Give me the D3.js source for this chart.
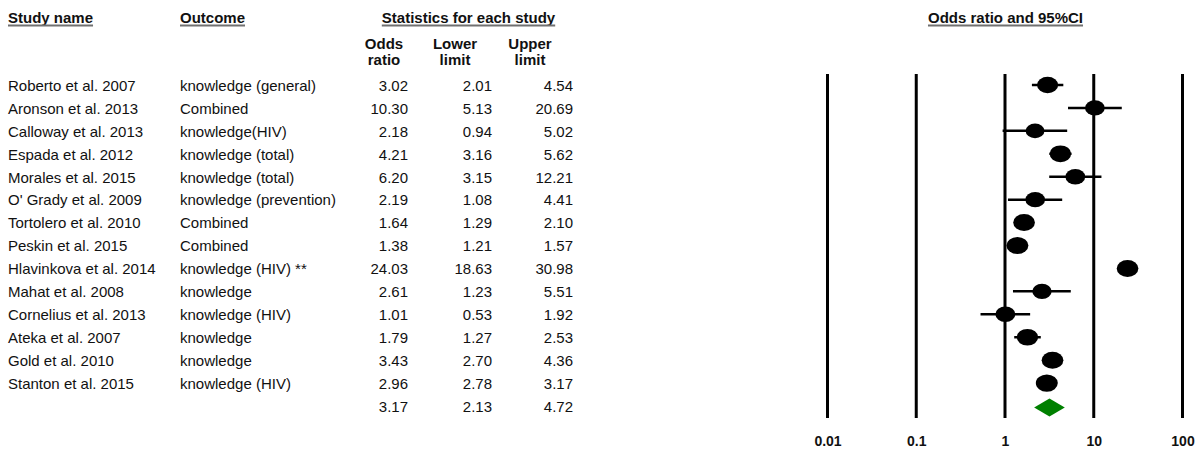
<!DOCTYPE html>
<html>
<head>
<meta charset="utf-8">
<script src="https://cdn.jsdelivr.net/npm/d3@7"></script>
<style>
  html, body { margin: 0; padding: 0; background: #fff; }
  svg { display: block; font-family: "Liberation Sans", Arial, sans-serif; }
</style>
</head>
<body>
<svg id="chart" width="1198" height="449"></svg>
<script>
// Study-level results (odds ratio with 95% CI)
const studies = [
  "Roberto et al. 2007", "Aronson et al. 2013", "Calloway et al. 2013",
  "Espada et al. 2012", "Morales et al. 2015", "O' Grady et al. 2009",
  "Tortolero et al. 2010", "Peskin et al. 2015", "Hlavinkova et al. 2014",
  "Mahat et al. 2008", "Cornelius et al. 2013", "Ateka et al. 2007",
  "Gold et al. 2010", "Stanton et al. 2015"
];
const outcomes = [
  "knowledge (general)", "Combined", "knowledge(HIV)",
  "knowledge (total)", "knowledge (total)", "knowledge (prevention)",
  "Combined", "Combined", "knowledge (HIV) **",
  "knowledge", "knowledge (HIV)", "knowledge",
  "knowledge", "knowledge (HIV)"
];
const oddsRatio  = [3.02, 10.30, 2.18, 4.21, 6.20, 2.19, 1.64, 1.38, 24.03, 2.61, 1.01, 1.79, 3.43, 2.96];
const lowerLimit = [2.01,  5.13, 0.94, 3.16, 3.15, 1.08, 1.29, 1.21, 18.63, 1.23, 0.53, 1.27, 2.70, 2.78];
const upperLimit = [4.54, 20.69, 5.02, 5.62, 12.21, 4.41, 2.10, 1.57, 30.98, 5.51, 1.92, 2.53, 4.36, 3.17];

// Pooled (random-effects) result
const summaryOR = 3.17, summaryLower = 2.13, summaryUpper = 4.72;

// Axis ticks of the forest plot
const tickValues = [0.01, 0.1, 1, 10, 100];
const tickLabels = ["0.01", "0.1", "1", "10", "100"];

const svg = d3.select("#chart");
const fmt = d3.format(".2f");

// Layout
const rowTop = 85, rowStep = 22.93;
const nRows = studies.length;
const rowY = i => rowTop + i * rowStep;
const plotTop = 74, plotBottom = 418;

const x = d3.scaleLog().domain([0.01, 100]).range([827.5, 1182.5]);

// Marker size from random-effects weights (DerSimonian-Laird)
const z = 1.959964;
const yi = oddsRatio.map(Math.log);
const vi = lowerLimit.map((l, i) => Math.pow((Math.log(upperLimit[i]) - Math.log(l)) / (2 * z), 2));
const wf = vi.map(v => 1 / v);
const sw = d3.sum(wf), sw2 = d3.sum(wf, w => w * w);
const yFixed = d3.sum(yi, (y, i) => wf[i] * y) / sw;
const Q = d3.sum(yi, (y, i) => wf[i] * (y - yFixed) * (y - yFixed));
const tau2 = Math.max(0, (Q - (nRows - 1)) / (sw - sw2 / sw));
const wr = vi.map(v => 1 / (v + tau2));
const wMax = d3.max(wr);
const rxOf = i => 11 * Math.sqrt(wr[i] / wMax);

// Header text with underline
function header(txt, xPos, yPos, anchor) {
  const t = svg.append("text")
    .attr("x", xPos).attr("y", yPos)
    .attr("text-anchor", anchor)
    .attr("font-size", 15).attr("font-weight", "bold")
    .attr("fill", "#111")
    .text(txt);
  const len = t.node().getComputedTextLength();
  const x0 = anchor === "middle" ? xPos - len / 2 : xPos;
  svg.append("line")
    .attr("x1", x0).attr("x2", x0 + len)
    .attr("y1", yPos + 2.5).attr("y2", yPos + 2.5)
    .attr("stroke", "#707070").attr("stroke-width", 2);
}
header("Study name", 8, 23, "start");
header("Outcome", 180, 23, "start");
header("Statistics for each study", 468.5, 23, "middle");
header("Odds ratio and 95%CI", 1005.5, 23, "middle");

// Column sub-headers
const subHeads = [["Odds", "ratio", 384], ["Lower", "limit", 455], ["Upper", "limit", 530]];
subHeads.forEach(([a, b, cx]) => {
  svg.append("text").attr("x", cx).attr("y", 49).attr("text-anchor", "middle")
    .attr("font-size", 15).attr("font-weight", "bold").attr("fill", "#111").text(a);
  svg.append("text").attr("x", cx).attr("y", 65).attr("text-anchor", "middle")
    .attr("font-size", 15).attr("font-weight", "bold").attr("fill", "#111").text(b);
});

// Table rows
const numCols = [[oddsRatio, 408], [lowerLimit, 492], [upperLimit, 573]];
const rows = svg.append("g").attr("font-size", 15).attr("fill", "#111");
studies.forEach((s, i) => {
  const by = rowY(i) + 5.8;
  rows.append("text").attr("x", 8).attr("y", by).text(s);
  rows.append("text").attr("x", 180).attr("y", by).text(outcomes[i]);
  numCols.forEach(([arr, rx]) => {
    rows.append("text").attr("x", rx).attr("y", by).attr("text-anchor", "end").text(fmt(arr[i]));
  });
});
const sy = rowY(nRows) + 5.8;
[[summaryOR, 408], [summaryLower, 492], [summaryUpper, 573]].forEach(([v, rx]) => {
  rows.append("text").attr("x", rx).attr("y", sy).attr("text-anchor", "end").text(fmt(v));
});

// Reference lines at each decade
svg.append("g").selectAll("line").data(tickValues).join("line")
  .attr("x1", d => x(d)).attr("x2", d => x(d))
  .attr("y1", plotTop).attr("y2", plotBottom)
  .attr("stroke", "#000").attr("stroke-width", 3);

// Axis labels
const axis = d3.axisBottom(x).tickValues(tickValues)
  .tickFormat((d, i) => tickLabels[i]).tickSize(0).tickPadding(0);
const axisG = svg.append("g").attr("transform", "translate(0,436)").call(axis);
axisG.select(".domain").remove();
axisG.selectAll("text")
  .attr("font-size", 14).attr("font-weight", "bold").attr("fill", "#111")
  .attr("font-family", "Liberation Sans, Arial, sans-serif")
  .attr("dy", "0.71em");

// Confidence intervals and point estimates
const marks = svg.append("g");
marks.selectAll("line.ci").data(studies).join("line")
  .attr("class", "ci")
  .attr("x1", (d, i) => x(lowerLimit[i])).attr("x2", (d, i) => x(upperLimit[i]))
  .attr("y1", (d, i) => rowY(i)).attr("y2", (d, i) => rowY(i))
  .attr("stroke", "#000").attr("stroke-width", 2.5);
marks.selectAll("ellipse").data(studies).join("ellipse")
  .attr("cx", (d, i) => x(oddsRatio[i])).attr("cy", (d, i) => rowY(i))
  .attr("rx", (d, i) => rxOf(i)).attr("ry", (d, i) => rxOf(i) * 0.78)
  .attr("fill", "#000");

// Summary diamond
const dy = rowY(nRows) + 1.5;
svg.append("path")
  .attr("d", `M${x(summaryLower)},${dy} L${x(summaryOR)},${dy - 9} L${x(summaryUpper)},${dy} L${x(summaryOR)},${dy + 9} Z`)
  .attr("fill", "#008000");
</script>
</body>
</html>
